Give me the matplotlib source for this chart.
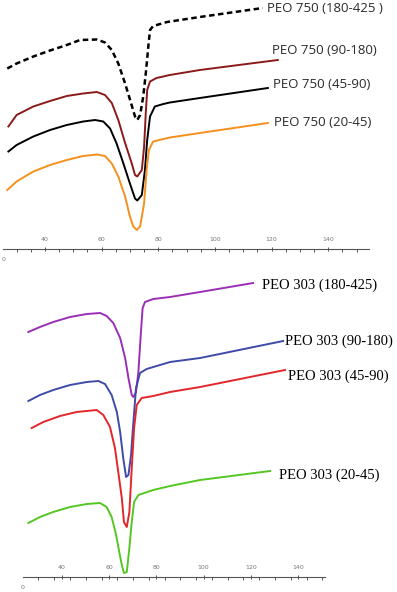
import matplotlib.pyplot as plt
import numpy as np
from matplotlib.ticker import FixedLocator

# ---- top panel: PEO 750, temperature (C) vs heat flow (a.u.) ----
t_750_180 = [26.7, 30.0, 35.9, 41.8, 47.7, 52.4, 58.3, 61.2, 63.6, 65.9, 68.3, 70.6, 71.8,
             72.6, 73.6, 74.7, 75.6, 76.5, 77.1, 78.2, 83.1, 94.7, 116.9]
h_750_180 = [18.1, 18.6, 19.3, 19.9, 20.45, 20.95, 21.0, 20.7, 19.95, 18.6, 16.6, 14.45, 13.3,
             12.95, 13.45, 15.3, 17.6, 20.3, 21.95, 22.35, 22.75, 23.25, 24.15]

t_750_90 = [27.1, 30.0, 35.9, 41.8, 47.7, 53.5, 58.3, 61.2, 63.6, 65.9, 68.3, 70.6, 71.8,
            72.6, 74.2, 75.0, 75.6, 76.1, 77.1, 79.4, 84.1, 94.7, 122.2]
h_750_90 = [12.3, 13.45, 14.3, 14.85, 15.35, 15.6, 15.75, 15.45, 14.65, 12.95, 10.65, 8.65, 7.45,
            7.3, 7.95, 10.25, 13.65, 15.95, 16.8, 17.15, 17.45, 17.95, 18.95]

t_750_45 = [27.1, 30.0, 35.9, 41.8, 47.7, 53.5, 57.7, 60.6, 63.0, 65.3, 67.7, 70.0, 71.8,
            72.6, 74.2, 75.3, 76.1, 77.1, 78.8, 81.8, 84.1, 94.7, 118.7]
h_750_45 = [9.8, 10.45, 11.3, 11.95, 12.45, 12.8, 12.95, 12.8, 12.1, 10.6, 8.6, 6.6, 5.1,
            4.9, 5.45, 7.95, 10.95, 13.3, 14.3, 14.55, 14.7, 15.15, 16.15]

t_750_20 = [26.7, 30.0, 35.9, 41.8, 47.7, 53.5, 58.3, 61.2, 63.6, 65.9, 68.3, 70.0, 71.2,
            72.4, 73.6, 75.0, 75.9, 76.7, 78.2, 84.1, 94.7, 118.7]
h_750_20 = [5.95, 6.8, 7.8, 8.45, 8.95, 9.35, 9.5, 9.35, 8.6, 7.3, 5.3, 3.3, 2.3,
            1.95, 2.3, 4.6, 7.95, 9.95, 10.8, 11.2, 11.65, 12.65]

# ---- bottom panel: PEO 303 ----
t_303_180 = [25.9, 30.8, 36.4, 43.5, 50.6, 56.2, 59.0, 61.8, 64.7, 66.8, 68.2, 69.6, 70.3,
             71.4, 72.4, 73.4, 74.2, 75.2, 78.7, 85.8, 98.5, 120.9]
h_303_180 = [24.5, 25.0, 25.5, 26.0, 26.3, 26.4, 26.1, 25.4, 23.9, 21.9, 19.9, 18.2, 18.0,
             18.5, 20.5, 24.2, 26.9, 27.5, 27.8, 28.0, 28.5, 29.4]

t_303_90 = [25.9, 30.8, 36.4, 43.5, 50.6, 55.5, 58.3, 61.1, 63.3, 64.7, 66.0, 67.2, 68.2,
            69.3, 70.3, 71.4, 73.1, 75.9, 85.8, 98.5, 133.6]
h_303_90 = [17.6, 18.2, 18.7, 19.2, 19.5, 19.6, 19.3, 18.2, 16.5, 14.5, 11.9, 10.0, 10.2,
            12.2, 15.5, 18.9, 20.4, 20.8, 21.5, 21.9, 23.6]

t_303_45 = [27.3, 32.2, 39.3, 46.3, 54.8, 57.6, 60.4, 62.5, 63.9, 65.4, 66.3, 67.5, 68.6,
            69.6, 70.6, 71.7, 73.8, 78.7, 85.8, 98.5, 134.4]
h_303_45 = [14.9, 15.5, 16.1, 16.5, 16.7, 16.2, 15.0, 12.9, 10.5, 7.9, 5.5, 5.0, 6.5,
            10.9, 14.9, 17.2, 17.9, 18.1, 18.5, 19.0, 20.7]

t_303_20 = [25.9, 30.8, 36.4, 43.5, 50.6, 56.2, 59.0, 61.1, 63.0, 64.4, 65.4, 66.3, 67.5,
            68.6, 69.6, 70.6, 72.4, 78.7, 85.8, 98.5, 128.1]
h_303_20 = [5.4, 6.0, 6.5, 7.0, 7.3, 7.4, 7.0, 6.0, 4.2, 2.4, 1.2, 0.4, 0.5,
            2.9, 5.5, 7.5, 8.2, 8.7, 9.1, 9.7, 10.6]

labels_750 = ['PEO 750 (180-425 )', 'PEO 750 (90-180)', 'PEO 750 (45-90)', 'PEO 750 (20-45)']
label_pos_750 = [(118.4, 24.05), (120.1, 19.95), (120.5, 16.55), (120.9, 12.75)]
labels_303 = ['PEO 303 (180-425)', 'PEO 303 (90-180)', 'PEO 303 (45-90)', 'PEO 303 (20-45)']
label_pos_303 = [(124.7, 29.2), (134.4, 23.6), (135.7, 20.1), (131.9, 10.2)]

tick_labels = [40, 60, 80, 100, 120, 140]

W, H = 397, 592
fig = plt.figure(figsize=(W / 100, H / 100), dpi=100)

# axes placed by pixel extents of the reference
ax1 = fig.add_axes([3.3 / W, 1 - 249.5 / H, (368.7 - 3.3) / W, 249.5 / H])
ax2 = fig.add_axes([22.7 / W, 1 - 577 / H, (325 - 22.7) / W, 307 / H])


def style_axis(ax, xmin, xmax, ymax, minor):
    ax.set_xlim(xmin, xmax)
    ax.set_ylim(0, ymax)
    for s in ['top', 'right', 'left']:
        ax.spines[s].set_visible(False)
    ax.spines['bottom'].set_color('#555555')
    ax.spines['bottom'].set_linewidth(0.8)
    ax.set_yticks([])
    ax.xaxis.set_major_locator(FixedLocator(tick_labels))
    ax.xaxis.set_minor_locator(FixedLocator(minor))
    ax.tick_params(axis='x', which='major', direction='inout', length=2.5, width=0.7,
                   color='#555555', labelsize=4.5, labelcolor='#777777', pad=-10)
    ax.tick_params(axis='x', which='minor', direction='out', length=2.5, width=0.7,
                   color='#555555')
    ax.patch.set_alpha(0)
    ax.annotate('0', xy=(xmin, 0), xytext=(0, -7.5), textcoords='offset points',
                ha='center', va='center', fontsize=4.5, color='#777777',
                annotation_clip=False)


# top panel
style_axis(ax1, 25.3, 154.3, 24.95, np.arange(30, 155, 5))
ax1.plot(t_750_180, h_750_180, color='black', lw=1.8, ls=(0, (2.2, 1.4)))
ax1.plot(t_750_90, h_750_90, color='#8b1a1a', lw=1.4)
ax1.plot(t_750_45, h_750_45, color='black', lw=1.4)
ax1.plot(t_750_20, h_750_20, color='#f5901e', lw=1.4)
for lab, (x, y) in zip(labels_750, label_pos_750):
    ax1.text(x, y, lab, ha='left', va='center', fontsize=9.5, color='#2a2a2a',
             family='Open Sans')

# bottom panel
style_axis(ax2, 23.5, 151.3, 30.7, np.arange(23.5 + 20 / 3, 151.3, 20 / 3))
ax2.plot(t_303_180, h_303_180, color='#9a2fb5', lw=1.4)
ax2.plot(t_303_90, h_303_90, color='#3e4ba8', lw=1.4)
ax2.plot(t_303_45, h_303_45, color='#e3262a', lw=1.4)
ax2.plot(t_303_20, h_303_20, color='#55c722', lw=1.4)
for lab, (x, y) in zip(labels_303, label_pos_303):
    ax2.text(x, y, lab, ha='left', va='center', fontsize=10.5, color='black',
             family='Liberation Serif')

fig.savefig('out.png', dpi=100)
